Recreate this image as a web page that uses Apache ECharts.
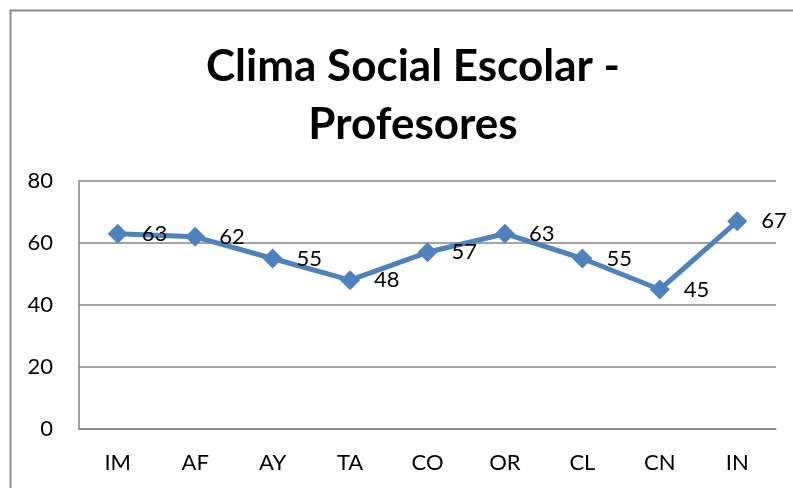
<!DOCTYPE html>
<html>
<head>
<meta charset="utf-8">
<script src="https://cdn.jsdelivr.net/npm/echarts@6/dist/echarts.min.js"></script>
<style>
  html, body { margin: 0; padding: 0; background: #fff; }
  #main { width: 793px; height: 488px; }
</style>
</head>
<body>
<div id="main"></div>
<script>
var categories = ['IM', 'AF', 'AY', 'TA', 'CO', 'OR', 'CL', 'CN', 'IN'];
var values = [63, 62, 55, 48, 57, 63, 55, 45, 67];
var titleText = 'Clima Social Escolar -\nProfesores';

var myChart = echarts.init(document.getElementById('main'));
var fontFam = 'Lato, "Open Sans", sans-serif';

var option = {
  backgroundColor: '#fff',
  animation: false,
  graphic: [{
    // marco gris del grafico
    type: 'rect',
    shape: { x: 10.5, y: 10.5, width: 900, height: 600 },
    style: { fill: 'none', stroke: '#8c8c8c', lineWidth: 2 }
  }],
  title: {
    text: titleText,
    left: 408,
    top: 33,
    textAlign: 'center',
    textStyle: {
      fontFamily: fontFam,
      fontSize: 44,
      fontWeight: 'bold',
      color: '#000',
      lineHeight: 58
    }
  },
  grid: { left: 79, right: 17, top: 181, bottom: 59 },
  xAxis: {
    type: 'category',
    data: categories,
    boundaryGap: true,
    axisLine: { lineStyle: { color: '#868686', width: 1.5 } },
    axisTick: { show: false },
    axisLabel: { color: '#000', fontSize: 22, fontFamily: fontFam, margin: 23 }
  },
  yAxis: {
    type: 'value',
    min: 0,
    max: 80,
    interval: 20,
    axisLine: { show: true, lineStyle: { color: '#868686', width: 1.5 } },
    axisTick: { show: false },
    splitLine: { lineStyle: { color: '#868686', width: 1.5 } },
    axisLabel: { color: '#000', fontSize: 22, fontFamily: fontFam, margin: 26 }
  },
  series: [{
    type: 'line',
    data: values,
    symbol: 'diamond',
    symbolSize: 20,
    lineStyle: { color: '#4F81BD', width: 5 },
    itemStyle: { color: '#4F81BD' },
    label: {
      show: true,
      position: 'right',
      distance: 14,
      color: '#000',
      fontSize: 22,
      fontFamily: fontFam
    }
  }]
};

myChart.setOption(option);
</script>
</body>
</html>
